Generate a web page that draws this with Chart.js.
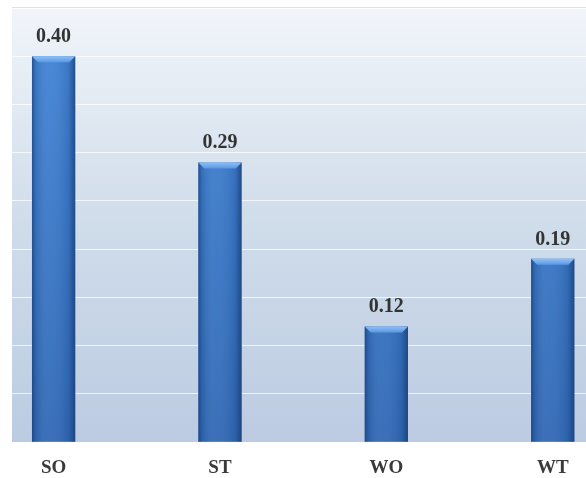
<!DOCTYPE html>
<html>
<head>
<meta charset="utf-8">
<script src="https://cdn.jsdelivr.net/npm/chart.js@4"></script>
<style>
html,body{margin:0;padding:0;background:#fff;}
#wrap{position:relative;width:586px;height:478px;}
</style>
</head>
<body>
<div id="wrap"><canvas id="c" width="586" height="478"></canvas></div>
<script>
// Data
const categories = ['SO', 'ST', 'WO', 'WT'];
const values = [0.40, 0.29, 0.12, 0.19];
const valueLabels = ['0.40', '0.29', '0.12', '0.19'];
const yMax = 0.45;
const yStep = 0.05;

const points = values.map((v, i) => ({ x: i, y: v }));

const plotBg = {
  id: 'plotBg',
  beforeDraw(chart) {
    const { ctx, chartArea: a } = chart;
    const g = ctx.createLinearGradient(0, a.top, 0, a.bottom);
    g.addColorStop(0, '#f1f5fa');
    g.addColorStop(0.5, '#cfdcea');
    g.addColorStop(1, '#bccbe2');
    ctx.save();
    ctx.fillStyle = g;
    ctx.fillRect(a.left, a.top, a.right - a.left, a.bottom - a.top);
    ctx.strokeStyle = '#dde2e8';
    ctx.lineWidth = 1;
    ctx.beginPath();
    ctx.moveTo(a.left, a.top - 0.5);
    ctx.lineTo(a.right, a.top - 0.5);
    ctx.stroke();
    ctx.restore();
  }
};

const barShade = {
  id: 'barShade',
  afterDatasetsDraw(chart) {
    const { ctx } = chart;
    const meta = chart.getDatasetMeta(0);
    ctx.save();
    meta.data.forEach((bar, i) => {
      const p = bar.getProps(['x', 'y', 'base', 'width'], true);
      const l = p.x - p.width / 2, r = p.x + p.width / 2;
      const t = p.y, b = p.base;
      const hg = ctx.createLinearGradient(l, 0, r, 0);
      hg.addColorStop(0, 'rgba(20,50,100,0.6)');
      hg.addColorStop(0.08, 'rgba(20,50,100,0.18)');
      hg.addColorStop(0.4, 'rgba(255,255,255,0.05)');
      hg.addColorStop(0.85, 'rgba(20,50,100,0.14)');
      hg.addColorStop(1, 'rgba(20,50,100,0.65)');
      ctx.fillStyle = hg;
      ctx.fillRect(l, t, r - l, b - t);
      const bev = 6;
      const bg = ctx.createLinearGradient(0, t, 0, t + bev);
      bg.addColorStop(0, '#8fc0f5');
      bg.addColorStop(1, '#5a98e4');
      ctx.fillStyle = bg;
      ctx.beginPath();
      ctx.moveTo(l, t);
      ctx.lineTo(r, t);
      ctx.lineTo(r - bev, t + bev);
      ctx.lineTo(l + bev, t + bev);
      ctx.closePath();
      ctx.fill();
      ctx.fillStyle = '#333333';
      ctx.font = 'bold 20px "Liberation Serif", "Times New Roman", serif';
      ctx.textAlign = 'center';
      ctx.textBaseline = 'alphabetic';
      ctx.fillText(valueLabels[i], p.x, t - 14);
    });
    ctx.restore();
  }
};

new Chart(document.getElementById('c'), {
  type: 'bar',
  data: {
    datasets: [{
      data: points,
      backgroundColor(ctx) {
        const a = ctx.chart.chartArea;
        if (!a) return '#3a78cc';
        const g = ctx.chart.ctx.createLinearGradient(0, a.top, 0, a.bottom);
        g.addColorStop(0, '#4285d8');
        g.addColorStop(1, '#2f68b5');
        return g;
      },
      borderWidth: 0,
      categoryPercentage: 1,
      barPercentage: 0.26
    }]
  },
  options: {
    responsive: false,
    animation: false,
    devicePixelRatio: 1,
    layout: { padding: { left: 12, top: 8, right: 0, bottom: -15 } },
    plugins: { legend: { display: false }, tooltip: { enabled: false } },
    scales: {
      x: {
        type: 'linear',
        min: -0.25,
        max: 3.2,
        offset: false,
        afterBuildTicks(scale) {
          scale.ticks = categories.map((c, i) => ({ value: i }));
        },
        ticks: {
          includeBounds: false,
          autoSkip: false,
          maxRotation: 0,
          padding: 14,
          color: '#3a3a3a',
          font: { family: '"Liberation Serif", "Times New Roman", serif', size: 19, weight: 'bold' },
          callback: v => categories[v] ?? ''
        },
        grid: { display: false, drawTicks: false },
        border: { display: false }
      },
      y: {
        min: 0,
        max: yMax,
        ticks: { display: false, stepSize: yStep },
        grid: { color: 'rgba(255,255,255,0.75)', lineWidth: 1, drawTicks: false },
        border: { display: false }
      }
    }
  },
  plugins: [plotBg, barShade]
});
</script>
</body>
</html>
